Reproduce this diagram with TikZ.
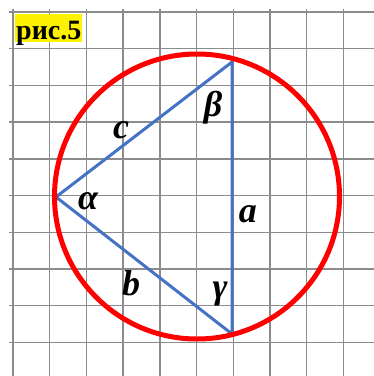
\documentclass[tikz,border=0pt]{standalone}
\usepackage{fontspec}
\setmainfont{Liberation Serif}
\usetikzlibrary{positioning}
\definecolor{sideblue}{RGB}{68,114,196}
\definecolor{gridgray}{RGB}{140,140,140}

\begin{document}
\begin{tikzpicture}[x=1pt, y=-1pt,
		lbl/.style={font=\fontsize{36}{36}\selectfont\bfseries\itshape, inner sep=0pt}]
		\useasboundingbox (0,0) rectangle (374,376);
		% grid
		\foreach \k in {0,...,9}{\draw[gridgray,line width=1.4pt] ({13+36.7*\k},9)--({13+36.7*\k},376);}
		\foreach \k in {0,...,9}{\draw[gridgray,line width=1.4pt] (9,{12+36.7*\k})--(374,{12+36.7*\k});}
		% triangle and circle
		\coordinate (A) at (56,197);
		\coordinate (B) at (232,62);
		\coordinate (C) at (232,334);
		\coordinate (O) at (197,196.5);
		\draw[sideblue,line width=3pt,line join=round] (A)--(B)--(C)--cycle;
		\draw[red,line width=5pt] (O) circle[radius=142.5];
		% labels
		\node[lbl] (lc) at (121,130) {c};
		\node[lbl] (la) at (248,214) {a};
		\node[lbl] (lb) at (131,283) {b};
		\node[lbl] (lalpha) at (88,201) {α};
		\node[lbl] (lbeta) at (213,108) {β};
		\node[lbl] (lgamma) at (220,294) {γ};
		\node[fill=yellow,anchor=north west,inner xsep=1pt,inner ysep=0pt,text height=25pt,text depth=3pt,
			font=\fontsize{28}{28}\selectfont\bfseries] (fig) at (15,14) {рис.5};
	\end{tikzpicture}
\end{document}
